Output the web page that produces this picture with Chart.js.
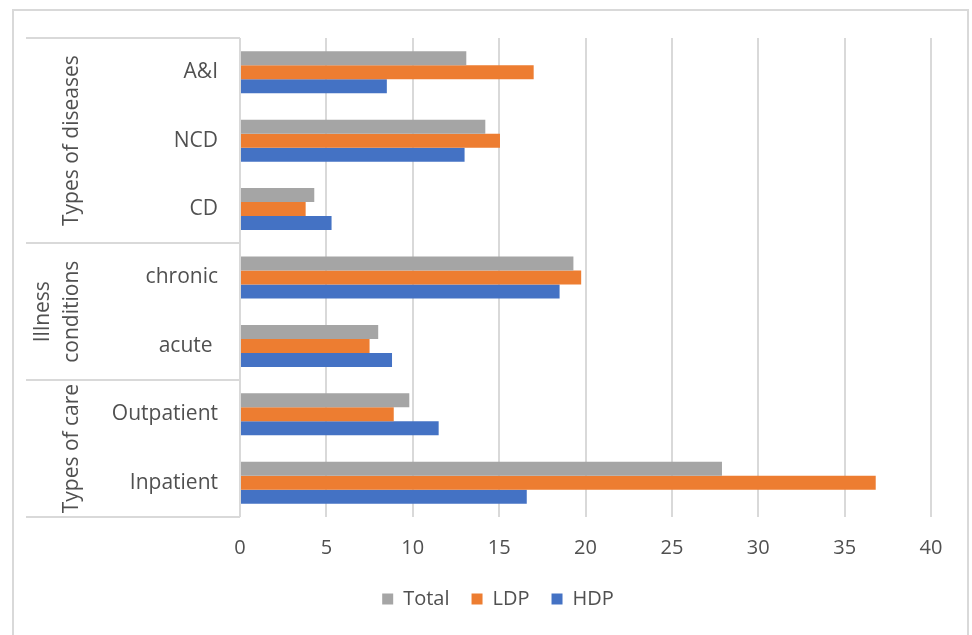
<!DOCTYPE html>
<html>
<head>
<meta charset="utf-8">
<script src="https://cdn.jsdelivr.net/npm/chart.js@4/dist/chart.umd.min.js"></script>
<style>
  html, body { margin: 0; padding: 0; background: #ffffff; }
  canvas { display: block; }
</style>
</head>
<body>
<canvas id="chart" width="972" height="635"></canvas>
<script>
// Categories, listed top to bottom
const categories = ['A&I', 'NCD', 'CD', 'chronic', 'acute ', 'Outpatient', 'Inpatient'];

// Series values
const totalValues = [13.1, 14.2, 4.3, 19.3, 8.0, 9.8, 27.9];
const ldpValues   = [17.0, 15.05, 3.8, 19.75, 7.5, 8.9, 36.8];
const hdpValues   = [8.5, 13.0, 5.3, 18.5, 8.8, 11.5, 16.6];

// Grouping of the categories on the left side
const groupLabels = [['Types of diseases'], ['Illness', 'conditions'], ['Types of care']];
const groupSizes  = [3, 2, 2];

// Value axis ticks
const xTicks = [0, 5, 10, 15, 20, 25, 30, 35, 40];

const FONT = "'Open Sans', 'Noto Sans', sans-serif";
const TEXT = '#505050';
const LINE = '#d9d9d9';

// Outer frame and grouped category brackets with rotated group names
const groupPlugin = {
  id: 'groupBrackets',
  beforeDraw(chart) {
    const ctx = chart.ctx;
    ctx.save();
    ctx.fillStyle = '#ffffff';
    ctx.fillRect(0, 0, chart.width, chart.height);
    ctx.strokeStyle = LINE;
    ctx.lineWidth = 2;
    ctx.strokeRect(13, 10, 955, 700);
    ctx.restore();
  },
  afterDraw(chart) {
    const ctx = chart.ctx;
    const y = chart.scales.y;
    const area = chart.chartArea;
    const left = 26;
    ctx.save();
    ctx.strokeStyle = LINE;
    ctx.lineWidth = 2;
    // boundaries between groups
    const bounds = [area.top];
    let idx = 0;
    groupSizes.forEach(n => {
      idx += n;
      if (idx < categories.length) {
        bounds.push((y.getPixelForValue(idx - 1) + y.getPixelForValue(idx)) / 2);
      } else {
        bounds.push(area.bottom);
      }
    });
    bounds.forEach(b => {
      ctx.beginPath();
      ctx.moveTo(left, Math.round(b));
      ctx.lineTo(area.left, Math.round(b));
      ctx.stroke();
    });
    // rotated group names
    ctx.fillStyle = TEXT;
    ctx.font = '500 21px ' + FONT;
    ctx.textAlign = 'center';
    ctx.textBaseline = 'middle';
    groupLabels.forEach((lines, g) => {
      const cy = (bounds[g] + bounds[g + 1]) / 2;
      const lh = 29;
      const cx = 72;
      lines.forEach((txt, k) => {
        const x = cx - (lines.length - 1 - k) * lh;
        ctx.save();
        ctx.translate(x, cy);
        ctx.rotate(-Math.PI / 2);
        ctx.fillText(txt, 0, 0);
        ctx.restore();
      });
    });
    ctx.restore();
  }
};

new Chart(document.getElementById('chart'), {
  type: 'bar',
  data: {
    labels: categories,
    datasets: [
      { label: 'Total', data: totalValues, backgroundColor: '#a5a5a5' },
      { label: 'LDP',   data: ldpValues,   backgroundColor: '#ed7d31' },
      { label: 'HDP',   data: hdpValues,   backgroundColor: '#4472c4' }
    ]
  },
  options: {
    indexAxis: 'y',
    responsive: false,
    animation: false,
    datasets: {
      bar: { categoryPercentage: 0.614, barPercentage: 1.0, borderWidth: 0 }
    },
    layout: { padding: { top: 38, right: 41, left: 65, bottom: 16 } },
    scales: {
      x: {
        min: 0,
        max: 40,
        afterBuildTicks(scale) { scale.ticks = xTicks.map(v => ({ value: v })); },
        afterFit(scale) { scale.height = 50; },
        border: { display: false },
        grid: { color: LINE, lineWidth: 2, drawTicks: false },
        ticks: { padding: 19, color: TEXT, font: { family: FONT, size: 20, weight: '500' } }
      },
      y: {
        afterFit(scale) { scale.width = 175; },
        border: { display: false },
        grid: { display: false, drawTicks: false },
        ticks: { padding: 22, color: TEXT, font: { family: FONT, size: 21, weight: '500' } }
      }
    },
    plugins: {
      legend: {
        position: 'bottom',
        labels: {
          boxWidth: 11,
          boxHeight: 11,
          padding: 22,
          color: TEXT,
          font: { family: FONT, size: 20, weight: '500' }
        }
      },
      tooltip: { enabled: false }
    }
  },
  plugins: [groupPlugin]
});
</script>
</body>
</html>
